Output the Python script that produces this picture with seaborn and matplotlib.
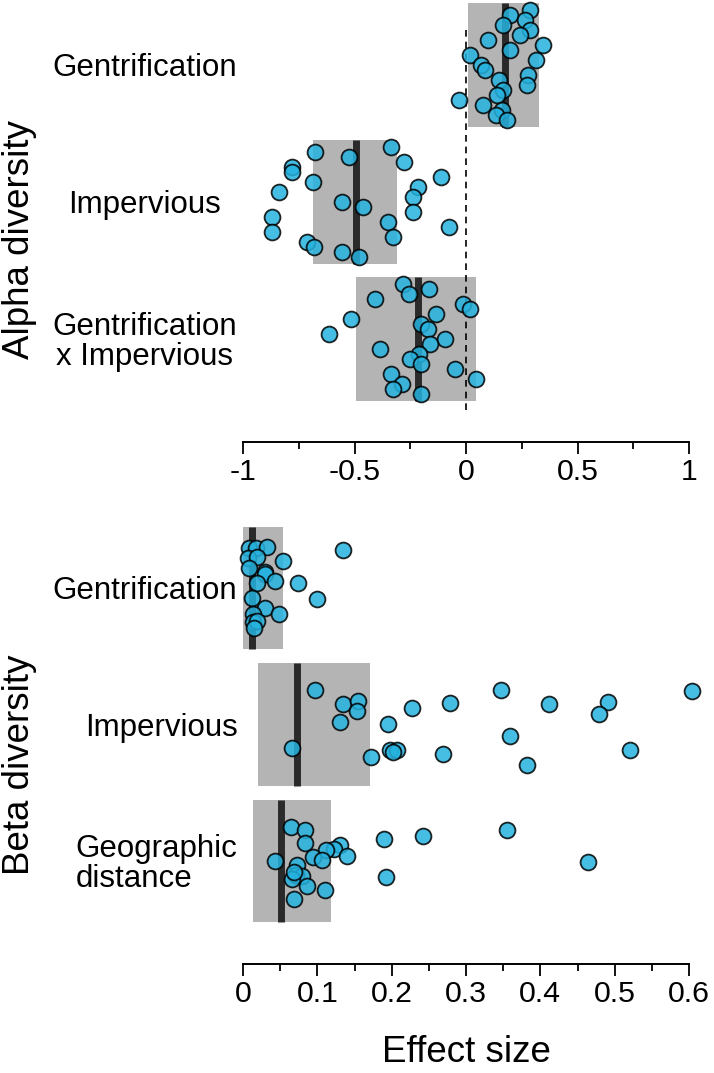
import numpy as np
import pandas as pd
import matplotlib
matplotlib.use("Agg")
import matplotlib.pyplot as plt
import seaborn as sns

# ---- alpha diversity (top panel), values listed top to bottom within each row
alpha_terms = ["Gentrification", "Impervious", "Gentrification\nx Impervious"]
alpha_mid = [0.175, -0.493, -0.215]
alpha_lo = [0.009, -0.686, -0.493]
alpha_hi = [0.327, -0.309, 0.045]
alpha_gent = [0.287, 0.197, 0.265, 0.166, 0.287, 0.242, 0.099, 0.345, 0.197, 0.018, 0.314, 0.067,
              0.085, 0.278, 0.148, 0.274, 0.166, 0.139, -0.031, 0.076, 0.161, 0.135, 0.184]
alpha_imp = [-0.336, -0.677, -0.525, -0.278, -0.780, -0.780, -0.112, -0.686, -0.215, -0.839, -0.238, -0.556,
             -0.462, -0.238, -0.870, -0.350, -0.076, -0.870, -0.327, -0.713, -0.682, -0.556, -0.480]
alpha_int = [-0.283, -0.166, -0.256, -0.408, -0.013, 0.018, -0.135, -0.516, -0.202, -0.170, -0.614, -0.094,
             -0.161, -0.386, -0.211, -0.251, -0.202, -0.049, -0.336, 0.045, -0.287, -0.327, -0.202]

# ---- beta diversity (bottom panel), with vertical jitter
beta_terms = ["Gentrification", "Impervious", "Geographic\ndistance"]
beta_mid = [0.0117, 0.073, 0.0507]
beta_lo = [0.0, 0.0197, 0.0139]
beta_hi = [0.0535, 0.171, 0.118]
beta_gent = [0.0085, 0.018, 0.032, 0.134, 0.007, 0.019, 0.054, 0.0085, 0.030, 0.030, 0.019, 0.043,
             0.074, 0.0117, 0.100, 0.030, 0.049, 0.013, 0.014, 0.019, 0.015]
beta_gent_jit = [-0.29, -0.29, -0.30, -0.28, -0.22, -0.23, -0.20, -0.15, -0.12, -0.10, -0.04, -0.05,
                 -0.04, 0.07, 0.08, 0.15, 0.19, 0.19, 0.25, 0.24, 0.29]
beta_imp = [0.097, 0.135, 0.155, 0.153, 0.131, 0.0655, 0.1955, 0.228, 0.279, 0.347, 0.411, 0.491,
            0.479, 0.6036, 0.359, 0.520, 0.382, 0.2695, 0.172, 0.198, 0.207, 0.202]
beta_imp_jit = [-0.25, -0.15, -0.17, -0.10, -0.02, 0.17, 0.00, -0.12, -0.155, -0.25, -0.15, -0.165,
                -0.08, -0.245, 0.085, 0.19, 0.30, 0.215, 0.235, 0.19, 0.19, 0.205]
beta_geo = [0.064, 0.083, 0.084, 0.131, 0.123, 0.112, 0.1395, 0.0946, 0.106, 0.043, 0.073, 0.0713,
            0.079, 0.0655, 0.0686, 0.0865, 0.110, 0.069, 0.190, 0.242, 0.3556, 0.192, 0.464]
beta_geo_jit = [-0.25, -0.23, -0.13, -0.12, -0.09, -0.08, -0.04, -0.03, -0.01, 0.00, 0.03, 0.10,
                0.11, 0.13, 0.08, 0.18, 0.21, 0.28, -0.16, -0.18, -0.23, 0.115, 0.01]

alpha_ticks = [-1, -0.5, 0, 0.5, 1]
alpha_ticklabels = ["-1", "-0.5", "0", "0.5", "1"]
beta_ticks = [0, 0.1, 0.2, 0.3, 0.4, 0.5, 0.6]
beta_ticklabels = ["0", "0.1", "0.2", "0.3", "0.4", "0.5", "0.6"]


def make_df(groups, jitters):
    rows = []
    for i, (vals, jit) in enumerate(zip(groups, jitters)):
        if jit is None:
            jit = np.linspace(-0.4, 0.4, len(vals))
        for v, j in zip(vals, jit):
            rows.append({"term": i, "value": v, "ypos": i + j})
    return pd.DataFrame(rows)


alpha_df = make_df([alpha_gent, alpha_imp, alpha_int], [None, None, None])
beta_df = make_df([beta_gent, beta_imp, beta_geo], [beta_gent_jit, beta_imp_jit, beta_geo_jit])

sns.set_style("white")
plt.rcParams["font.family"] = ["Liberation Sans", "DejaVu Sans"]
plt.rcParams["text.color"] = "black"
plt.rcParams["xtick.labelcolor"] = "black"
plt.rcParams["ytick.labelcolor"] = "black"

W, H = 714, 1073
fig = plt.figure(figsize=(W / 100, H / 100), dpi=100)
ax1 = fig.add_axes([243 / W, 1 - 441.7 / H, 446 / W, 441.7 / H])
ax2 = fig.add_axes([243 / W, 1 - 964.3 / H, 446 / W, (964.3 - 520) / H])


def panel(ax, df, terms, lo, hi, mid, xlim, ticks, ticklabels, minor, label_pad, label_ha):
    pos = np.arange(len(terms))
    ax.barh(pos, np.array(hi) - np.array(lo), left=lo, height=0.9,
            color="#b4b4b4", linewidth=0, zorder=1)
    ax.vlines(mid, pos - 0.45, pos + 0.45, colors="#2a2a2a", linewidth=5, zorder=3)
    sns.scatterplot(data=df, x="value", y="ypos", ax=ax, s=130, color="#26b2df",
                    edgecolor="black", linewidth=1.3, alpha=0.85, zorder=4,
                    legend=False, clip_on=False)
    ax.set_xlim(*xlim)
    for s in ["left", "top", "right"]:
        ax.spines[s].set_visible(False)
    ax.spines["bottom"].set_linewidth(1.4)
    ax.spines["bottom"].set_color("black")
    ax.set_xticks(ticks)
    ax.set_xticklabels(ticklabels)
    ax.set_xticks(minor, minor=True)
    ax.tick_params(axis="x", which="major", length=8.6, width=1.3, direction="out",
                   labelsize=21.8, pad=3, color="black", bottom=True)
    ax.tick_params(axis="x", which="minor", length=5, width=1.3, direction="out",
                   color="black", bottom=True)
    ax.set_yticks(pos)
    ax.set_yticklabels(terms)
    ax.tick_params(axis="y", length=0, pad=label_pad, labelsize=22.5)
    for lbl, (ha, ma) in zip(ax.get_yticklabels(), label_ha):
        lbl.set_horizontalalignment(ha)
        lbl.set_multialignment(ma)
        lbl.set_linespacing(1.0)
    ax.set_xlabel("")
    ax.set_ylabel("")


panel(ax1, alpha_df, alpha_terms, alpha_lo, alpha_hi, alpha_mid, (-1, 1),
      alpha_ticks, alpha_ticklabels, [-0.75, -0.25, 0.25, 0.75], 70.6,
      [("center", "center")] * 3)
ax1.vlines(0, -0.255, 2.53, colors="black", linestyles=(0, (4, 3)), linewidth=1.2, zorder=2)
ax1.set_ylim(2.75, -0.474)

panel(ax2, beta_df, beta_terms, beta_lo, beta_hi, beta_mid, (0, 0.6),
      beta_ticks, beta_ticklabels, [0.05, 0.15, 0.25, 0.35, 0.45, 0.55], 4,
      [("right", "left")] * 3)
ax2.set_ylim(2.757, -0.498)

fig.text(20 / W, 1 - 240 / H, "Alpha diversity", rotation=90, ha="center", va="center", fontsize=26.5)
fig.text(20 / W, 1 - 765 / H, "Beta diversity", rotation=90, ha="center", va="center", fontsize=26.5)
fig.text(466 / W, 1 - 1053 / H, "Effect size", ha="center", va="center", fontsize=26.5)

fig.savefig("out.png", dpi=100)
